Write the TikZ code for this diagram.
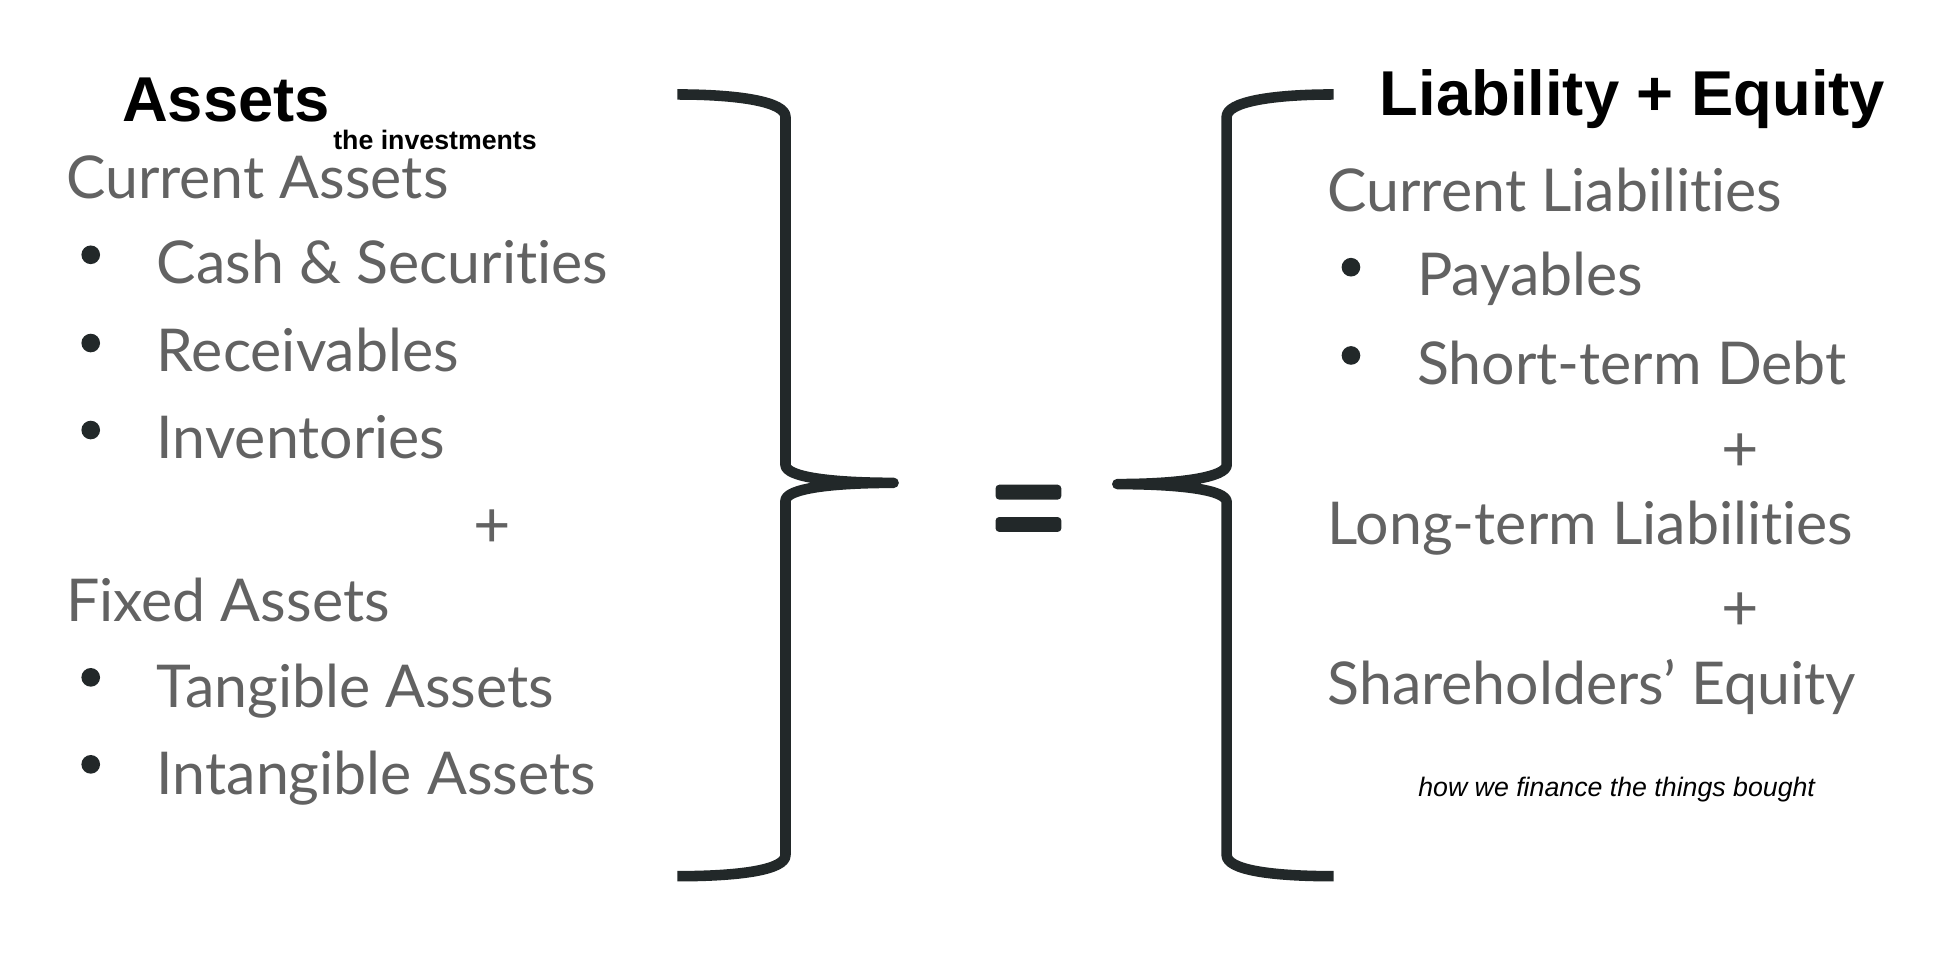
\documentclass[tikz,border=0pt]{standalone}
\usepackage{fontspec}
\setmainfont{Lato}[Ligatures=NoCommon]
\newfontfamily\arialf{Liberation Sans}
\definecolor{ink}{RGB}{34,40,41}
\definecolor{txt}{RGB}{98,98,98}
\begin{document}
\begin{tikzpicture}[x=1pt,y=-1pt,
  item/.style={anchor=base west, inner sep=0pt, text=txt, font=\fontsize{47.5}{57}\selectfont},
  head/.style={anchor=base west, inner sep=0pt, font=\arialf\bfseries\fontsize{51}{60}\selectfont},
  note/.style={anchor=base west, inner sep=0pt, font=\arialf\bfseries\fontsize{21.5}{26}\selectfont},
  inote/.style={anchor=base west, inner sep=0pt, font=\arialf\itshape\fontsize{21.5}{26}\selectfont},
  dot/.style={circle, fill=ink, inner sep=0pt, minimum size=15pt},
  plus/.style={text=txt, inner sep=0pt, font=\fontsize{52}{60}\selectfont},
  brace/.style={draw=ink, line width=8.5pt, line join=round, line cap=butt},
  bar/.style={fill=ink, rounded corners=3pt}]
\fill[white] (0,0) rectangle (1569,766);
\useasboundingbox (0,0) rectangle (1569,766);

% left brace
\draw[brace] (545,76) .. controls (595,76) and (632,82) .. (632,94) -- (632,374)
  .. controls (632,384) and (670,388.5) .. (719,388.5)
  .. controls (670,388.5) and (632,393) .. (632,403) -- (632,688)
  .. controls (632,700) and (595,705) .. (545,705);
% right brace
\draw[brace] (1073,76) .. controls (1023,76) and (987,82) .. (987,94) -- (987,374)
  .. controls (987,384) and (949,389.5) .. (899,389.5)
  .. controls (949,389.5) and (987,394) .. (987,404) -- (987,688)
  .. controls (987,700) and (1023,705) .. (1073,705);
% equals
\fill[bar] (801,390) rectangle (854,402);
\fill[bar] (801,416) rectangle (854,428);

% left column
\node[head] (assets) at (98,98) {Assets};
\node[note] (inv) at (268,120) {the investments};
\node[item] (ca) at (53,160) {Current Assets};
\node[dot] (d1) at (73,205) {};
\node[item] (cash) at (126,228) {Cash \& Securities};
\node[dot] (d2) at (73,276) {};
\node[item] (rec) at (126,299) {Receivables};
\node[dot] (d3) at (73,346) {};
\node[item] (invt) at (126,369) {Inventories};
\node[plus] (p1) at (396,425) {+};
\node[item] (fa) at (53,500) {Fixed Assets};
\node[dot] (d4) at (73,545) {};
\node[item] (tan) at (126,569) {Tangible Assets};
\node[dot] (d5) at (73,615) {};
\node[item] (intan) at (126,639) {Intangible Assets};

% right column
\node[head] (le) at (1110,93) {Liability + Equity};
\node[item] (cl) at (1068,170) {Current Liabilities};
\node[dot] (d6) at (1087,215) {};
\node[item] (pay) at (1140,238) {Payables};
\node[dot] (d7) at (1087,286) {};
\node[item] (std) at (1140,309) {Short-term Debt};
\node[plus] (p2) at (1400,364) {+};
\node[item] (ltl) at (1068,438) {Long-term Liabilities};
\node[plus] (p3) at (1400,492) {+};
\node[item] (se) at (1068,567) {Shareholders’ Equity};
\node[inote] (fin) at (1141,641) {how we finance the things bought};
\end{tikzpicture}
\end{document}
